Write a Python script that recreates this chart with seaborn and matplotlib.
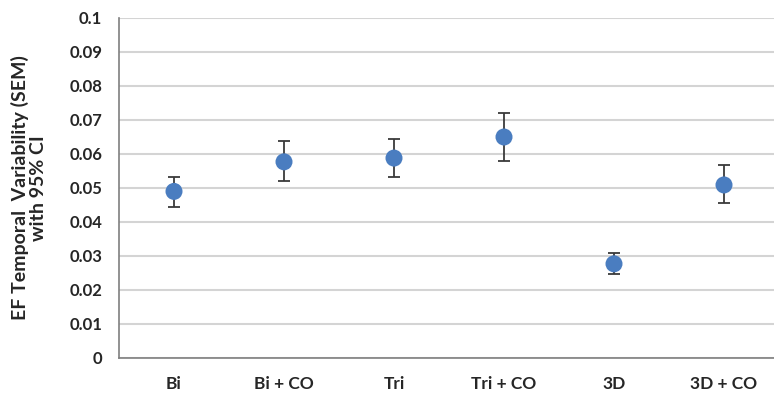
import matplotlib
matplotlib.use("Agg")
import matplotlib.pyplot as plt
import seaborn as sns
import numpy as np
from matplotlib.ticker import FixedLocator

categories = ["Bi", "Bi + CO", "Tri", "Tri + CO", "3D", "3D + CO"]
means = [0.049, 0.0577, 0.0588, 0.065, 0.0277, 0.0509]
ci_upper = [0.0532, 0.0638, 0.0645, 0.0720, 0.0309, 0.0568]
ci_lower = [0.0444, 0.0520, 0.0533, 0.0580, 0.0248, 0.0456]
y_ticks = [0, 0.01, 0.02, 0.03, 0.04, 0.05, 0.06, 0.07, 0.08, 0.09, 0.1]
y_tick_labels = ["0", "0.01", "0.02", "0.03", "0.04", "0.05", "0.06", "0.07", "0.08", "0.09", "0.1"]

sns.set_style("white")
plt.rcParams["font.family"] = ["Lato", "DejaVu Sans"]

fig = plt.figure(figsize=(7.74, 4.03), dpi=100)
ax = fig.add_axes([119/774, 1-358/403, 660/774, (358-18)/403])

yerr = [np.array(means) - np.array(ci_lower), np.array(ci_upper) - np.array(means)]
ax.errorbar(categories, means, yerr=yerr, fmt="none", ecolor="#3a3a3a",
            elinewidth=1.3, capsize=4, capthick=1.3, zorder=2)
sns.scatterplot(x=categories, y=means, ax=ax, color="#4a7dc0", s=150,
                edgecolor="none", zorder=3)

ax.set_xlim(-0.5, 5.5)
ax.set_ylim(0, 0.1)
ax.set_yticks(y_ticks)
ax.set_yticklabels(y_tick_labels)
ax.yaxis.grid(True, color="#d4d4d4", linewidth=1.5)
ax.set_axisbelow(True)

for s in ["top", "right"]:
    ax.spines[s].set_visible(False)
ax.spines["left"].set_color("#7f7f7f")
ax.spines["bottom"].set_color("#7f7f7f")
ax.spines["left"].set_linewidth(1.2)
ax.spines["bottom"].set_linewidth(1.2)

ax.xaxis.set_minor_locator(FixedLocator(np.arange(-0.5, 6.0, 1.0)))
ax.tick_params(axis="x", which="major", length=0, pad=13, labelsize=12.5)
ax.tick_params(axis="x", which="minor", length=5, color="#7f7f7f", width=1.2, direction="out")
ax.tick_params(axis="y", length=5, color="#7f7f7f", width=1.2, direction="out", labelsize=12, pad=7)
for lbl in ax.get_xticklabels() + ax.get_yticklabels():
    lbl.set_fontweight("bold")
    lbl.set_color("#262626")

ax.set_ylabel("EF Temporal  Variability (SEM)\nwith 95% CI", fontsize=14, fontweight="bold",
              color="#262626", labelpad=16, linespacing=1.1)

fig.savefig("out.png", dpi=100)
